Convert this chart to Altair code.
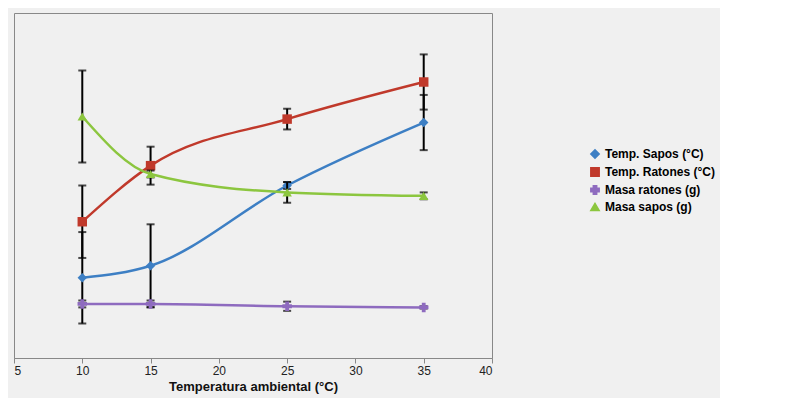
import pandas as pd
import altair as alt

temps = [10, 15, 25, 35]
temp_sapos = [14.3, 15.7, 25.0, 32.3]
temp_sapos_err = [5.3, 4.8, 0.4, 3.2]
temp_ratones = [20.8, 27.3, 32.7, 37.0]
temp_ratones_err = [4.2, 2.2, 1.2, 3.2]
masa_ratones = [47, 47, 45, 44]
masa_ratones_err = [3, 3, 4, 1]
masa_sapos = [210, 160, 144, 141]
masa_sapos_err = [40, 3, 9, 3]

series = ["Temp. Sapos (°C)", "Temp. Ratones (°C)", "Masa ratones (g)", "Masa sapos (g)"]
colors = ["#3d7fc4", "#c0392b", "#8e6bbf", "#8cc63f"]
shapes = ["diamond", "square", "cross", "triangle-up"]


def frame(name, vals, errs):
    return pd.DataFrame({"x": temps, "v": vals, "lo": [a - b for a, b in zip(vals, errs)],
                         "hi": [a + b for a, b in zip(vals, errs)], "serie": name})


left = pd.concat([frame(series[0], temp_sapos, temp_sapos_err),
                  frame(series[1], temp_ratones, temp_ratones_err)])
right = pd.concat([frame(series[2], masa_ratones, masa_ratones_err),
                   frame(series[3], masa_sapos, masa_sapos_err)])

xs = alt.X("x:Q", title="Temperatura ambiental (°C)",
           scale=alt.Scale(domain=[5, 40], nice=False),
           axis=alt.Axis(values=list(range(5, 41, 5)), grid=False, titleFontWeight="bold",
                         titleFontSize=13, labelFontSize=12))
col = alt.Color("serie:N", scale=alt.Scale(domain=series, range=colors),
                legend=alt.Legend(title=None, orient="none", legendX=575, legendY=135,
                                  labelFontWeight="bold", labelFontSize=12, symbolSize=70,
                                  labelLimit=300))
shp = alt.Shape("serie:N", scale=alt.Scale(domain=series, range=shapes), legend=None)


def side(df, y):
    base = alt.Chart(df)
    lines = base.mark_line(interpolate="monotone", strokeWidth=2.5).encode(x=xs, y=y, color=col)
    err = base.mark_errorbar(ticks=alt.TickConfig(size=8, thickness=2), color="black", thickness=2).encode(
        x="x:Q", y=alt.Y("lo:Q", axis=None), y2="hi:Q")
    pts = base.mark_point(filled=True, size=90, opacity=1).encode(x="x:Q", y=y, color=col, shape=shp)
    return alt.layer(lines, err, pts)


yl = alt.Y("v:Q", title="Temperatura corporal promedio (°C)",
           scale=alt.Scale(domain=[5, 45], nice=False),
           axis=alt.Axis(values=list(range(5, 46, 5)), orient="left", grid=True, gridColor="#888",
                         titleFontWeight="bold", titleFontSize=13, labelFontSize=12))
yr = alt.Y("v:Q", title="Masa corporal promedio (g)",
           scale=alt.Scale(domain=[0, 300], nice=False),
           axis=alt.Axis(values=list(range(0, 301, 50)), orient="right", grid=False,
                         titleFontWeight="bold", titleFontSize=13, labelFontSize=12))

chart = (
    alt.layer(side(left, yl), side(right, yr))
    .resolve_scale(y="independent")
    .properties(width=478, height=345, background="#f0f0f0")
    .configure_view(stroke="#888")
    .configure_axis(domainColor="#888", tickColor="#888", labelColor="#222", titleColor="#111")
)
chart.save("out.html", embed_options={"renderer": "svg", "actions": False})
